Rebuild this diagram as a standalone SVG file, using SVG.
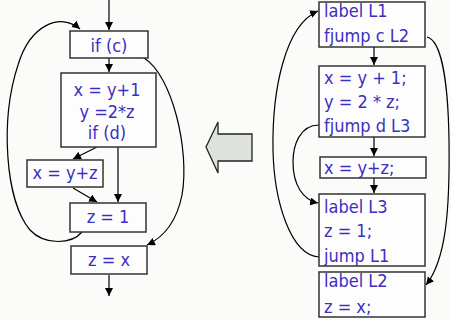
<svg xmlns="http://www.w3.org/2000/svg" width="451" height="320" viewBox="0 0 451 320">
<style>
.bx{fill:#fdfdfd;stroke:#333;stroke-width:1.5}
.t{font-family:"DejaVu Sans Condensed","DejaVu Sans",Verdana,sans-serif;font-stretch:condensed;font-size:18px;fill:#3b2fc0}
.c{text-anchor:middle}
.ln{fill:none;stroke:#000;stroke-width:1.2}
</style>
<defs>
<marker id="ah" viewBox="0 0 10 10" refX="10" refY="5" markerWidth="8" markerHeight="8" markerUnits="userSpaceOnUse" orient="auto">
<path d="M0,0 L10,5 L0,10 z" fill="#000"/>
</marker>
</defs>
<rect width="451" height="320" fill="#fbfbfa"/>
<g id="connectors">
<path class="ln" d="M109,0 V30" marker-end="url(#ah)"/>
<path class="ln" d="M109,58 V72" marker-end="url(#ah)"/>
<path class="ln" d="M97,147 L73,159" marker-end="url(#ah)"/>
<path class="ln" d="M73,188 L97,202" marker-end="url(#ah)"/>
<path class="ln" d="M118,147 V202" marker-end="url(#ah)"/>
<path class="ln" d="M109,275 V296" marker-end="url(#ah)"/>
<path class="ln" d="M82,232 C72,244 45,246 30,230 C5,200 0,120 18,65 C30,25 60,12 80,29" marker-end="url(#ah)"/>
<path class="ln" d="M144,58 C172,75 190,150 182,195 C176,225 162,238 147,245" marker-end="url(#ah)"/>
<path class="ln" d="M374,47 V65" marker-end="url(#ah)"/>
<path class="ln" d="M374,137 V156" marker-end="url(#ah)"/>
<path class="ln" d="M374,178 V193" marker-end="url(#ah)"/>
<path class="ln" d="M319,257 C290,255 274,200 273,150 C272,90 285,25 318,11" marker-end="url(#ah)"/>
<path class="ln" d="M319,125 C300,125 293,145 293,162 C293,185 303,200 318,203" marker-end="url(#ah)"/>
<path class="ln" d="M427,37 C440,40 448,75 449,140 C450,210 446,260 426,285" marker-end="url(#ah)"/>
</g>
<g id="bigarrow">
<path d="M206,147 L218,122 L218,134 L252,134 L252,161 L218,161 L218,173 Z" fill="#dde2dc" stroke="#222" stroke-width="1.3"/>
</g>
<g id="ifc">
<rect class="bx" x="70" y="31" width="78" height="27"/>
<text class="t c" x="109" y="52">if (c)</text>
</g>
<g id="block1">
<rect class="bx" x="61" y="73" width="95" height="74"/>
<text class="t c" x="107" y="96">x = y+1</text>
<text class="t c" x="107" y="118">y =2*z</text>
<text class="t c" x="107" y="139">if (d)</text>
</g>
<g id="xyz">
<rect class="bx" x="27" y="160" width="76" height="27"/>
<text class="t c" x="65" y="179">x = y+z</text>
</g>
<g id="z1">
<rect class="bx" x="70" y="203" width="76" height="29"/>
<text class="t c" x="108" y="223">z = 1</text>
</g>
<g id="zx">
<rect class="bx" x="71" y="246" width="76" height="28"/>
<text class="t c" x="109" y="266">z = x</text>
</g>
<g id="r1">
<rect class="bx" x="319" y="2" width="106" height="45"/>
<text class="t" x="324" y="17">label L1</text>
<text class="t" x="324" y="42">fjump c L2</text>
</g>
<g id="r2">
<rect class="bx" x="319" y="66" width="106" height="71"/>
<text class="t" x="324" y="84">x = y + 1;</text>
<text class="t" x="324" y="108">y = 2 * z;</text>
<text class="t" x="324" y="132">fjump d L3</text>
</g>
<g id="r3">
<rect class="bx" x="320" y="157" width="106" height="21"/>
<text class="t" x="324" y="174">x = y+z;</text>
</g>
<g id="r4">
<rect class="bx" x="319" y="194" width="106" height="72"/>
<text class="t" x="324" y="213">label L3</text>
<text class="t" x="324" y="237">z = 1;</text>
<text class="t" x="324" y="262">jump L1</text>
</g>
<g id="r5">
<rect class="bx" x="319" y="272" width="106" height="45"/>
<text class="t" x="324" y="287">label L2</text>
<text class="t" x="324" y="313">z = x;</text>
</g>
</svg>
